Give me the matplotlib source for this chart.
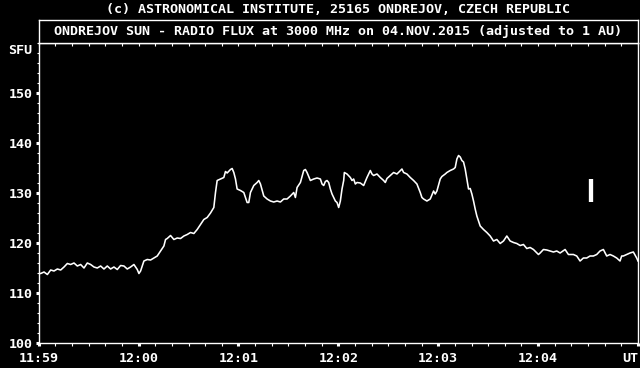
import matplotlib
matplotlib.use("Agg")
import matplotlib.pyplot as plt
from matplotlib.ticker import MultipleLocator, FixedLocator

# ---- data (seconds after 11:59:00 UT, solar flux in SFU) ----
times = [0.2, 1.2, 3.2, 5.2, 7.2, 9.2, 11.2, 13.2, 15.2, 17.2, 19.2, 21.2, 23.2, 25.2,
         27.2, 29.2, 31.2, 33.2, 35.2, 37.2, 39.2, 41.2, 43.2, 45.2, 47.2, 49.2, 51.2,
         53.2, 55.2, 57.2, 59.2, 60.2, 61.2, 63.2, 65.2, 67.2, 69.2, 71.2, 73.2, 75.2,
         76.2, 77.2, 79.2, 81.2, 83.2, 85.2, 87.2, 89.2, 91.2, 93.2, 95.2, 97.2, 99.2,
         101.2, 103.2, 105.2, 106.2, 107.2, 109.2, 111.2, 112.2, 113.2, 115.2, 116.2,
         117.2, 118.2, 119.2, 121.2, 123.2, 125.2, 126.2, 127.2, 129.2, 131.2, 132.2,
         133.2, 135.2, 137.2, 139.2, 141.2, 143.2, 145.2, 147.2, 149.2, 151.2, 153.2,
         154.2, 155.2, 157.2, 159.2, 160.2, 161.2, 163.2, 165.2, 167.2,
         169.2, 170.2, 171.2, 172.2, 173.2, 174.2, 175.2, 176.2, 177.2, 178.2, 179.2,
         180.2, 181.2, 182.2, 183.2, 183.6, 185.2, 187.2, 188.2, 189.2, 190.2, 191.2,
         193.2, 195.2, 197.2, 199.2, 200.2, 201.2, 203.2, 205.2, 207.2, 208.2, 209.2,
         211.2, 213.2, 215.2, 218.2, 219.2, 221.2, 223.2, 225.2, 227.2, 229.2, 230.2,
         231.2, 233.2, 235.2, 237.2, 238.2, 239.2, 241.2, 242.2, 244.2, 245.2, 247.2,
         249.2, 250.2, 251.2, 252.2, 253.2, 254.2, 255.2, 256.2, 257.2, 258.2, 259.2,
         260.2, 261.2, 262.2, 263.2, 264.2, 265.2, 267.2, 269.2, 271.2, 273.2, 275.2,
         277.2, 279.2, 281.2, 283.2, 285.2, 287.2, 289.2, 291.2, 293.2, 295.2, 297.2,
         300.2, 301.2, 303.2, 305.2, 307.2, 309.2, 311.2, 313.2, 316.2, 318.2, 321.2,
         323.2, 325.2, 327.2, 329.2, 331.2, 333.2, 335.2, 337.2, 339.2, 341.2, 343.2,
         345.2, 347.2, 349.2, 350.2, 351.2, 353.2, 355.2, 357.2, 359.2, 360.0]
flux = [113.9, 113.9, 114.2, 113.7, 114.6, 114.4, 114.8, 114.6, 115.2, 115.9, 115.7,
        116.0, 115.4, 115.7, 115.0, 116.0, 115.7, 115.2, 115.0, 115.4, 114.8, 115.4,
        114.8, 115.2, 114.7, 115.5, 115.4, 114.8, 115.2, 115.7, 114.7, 113.9, 114.4,
        116.4, 116.7, 116.6, 117.0, 117.4, 118.4, 119.4, 120.7, 120.9, 121.5, 120.7,
        121.0, 120.9, 121.4, 121.7, 122.1, 121.9, 122.7, 123.7, 124.7, 125.1, 126.0,
        127.1, 130.1, 132.5, 132.8, 133.1, 134.3, 134.0, 134.7, 134.9, 134.1, 132.8,
        130.8, 130.5, 130.1, 128.1, 128.1, 130.1, 131.5, 132.1, 132.5, 131.8, 129.4,
        128.8, 128.4, 128.2, 128.4, 128.2, 128.8, 128.8, 129.4, 130.1, 129.1, 131.1,
        132.1, 134.5, 134.7, 134.1, 132.5, 132.8, 133.0,
        132.8, 131.8, 131.5, 132.3, 132.5, 132.1, 130.8, 129.8, 129.1, 128.4, 128.1,
        127.1, 128.4, 130.8, 132.5, 134.1, 133.8, 133.1, 132.5, 132.8, 131.8, 132.1,
        132.0, 131.5, 133.1, 134.5, 133.8, 133.5, 133.8, 133.1, 132.5, 132.1, 132.9,
        133.5, 134.1, 133.8, 134.8, 134.1, 133.8, 133.1, 132.5, 131.8, 130.1, 129.1,
        128.8, 128.4, 128.8, 130.4, 129.8, 130.4, 132.8, 133.3, 133.8, 134.1, 134.5,
        134.8, 135.1, 136.8, 137.5, 137.2, 136.5, 136.2, 134.8, 132.8, 130.8, 130.9,
        129.8, 128.4, 126.8, 125.4, 124.4, 123.4, 122.7, 122.1, 121.4, 120.4, 120.7,
        119.9, 120.4, 121.4, 120.4, 120.1, 119.9, 119.5, 119.7, 118.9, 119.1, 118.7,
        117.7, 118.0, 118.7, 118.6, 118.4, 118.2, 118.4, 118.0, 118.7, 117.7, 117.7,
        117.4, 116.4, 117.0, 117.0, 117.4, 117.4, 117.7, 118.4, 118.7, 117.4, 117.7,
        117.4, 117.0, 116.4, 117.4, 117.4, 117.7, 118.0, 118.2, 117.0, 116.4]

x_tick_labels = ["11:59", "12:00", "12:01", "12:02", "12:03", "12:04", "UT"]
y_ticks = [100, 110, 120, 130, 140, 150]
bar_time = [331.6]
bar_low = [128.2]
bar_high = [132.9]

top_text = "(c) ASTRONOMICAL INSTITUTE, 25165 ONDREJOV, CZECH REPUBLIC"
title_text = "ONDREJOV SUN - RADIO FLUX at 3000 MHz on 04.NOV.2015 (adjusted to 1 AU)"

FONT = dict(family="DejaVu Sans Mono", weight="bold", size=9.6, color="white")

W, H = 640, 368
fig = plt.figure(figsize=(W / 100, H / 100), dpi=100, facecolor="black")

ax = fig.add_axes([38.7 / W, 25 / H, (638 - 38.7) / W, 300 / H], facecolor="black")
ax.plot(times, flux, color="white", lw=1.15)
ax.vlines(bar_time, bar_low, bar_high, color="white", lw=3.1, capstyle="butt")

ax.set_xlim(0, 360)
ax.set_ylim(100, 160)
for s in ax.spines.values():
    s.set_color("white")
    s.set_linewidth(1.0)

ax.xaxis.set_major_locator(FixedLocator(list(range(0, 361, 60))))
ax.xaxis.set_minor_locator(MultipleLocator(10))
ax.yaxis.set_major_locator(FixedLocator(y_ticks))
ax.yaxis.set_minor_locator(MultipleLocator(2))
ax.set_xticklabels(x_tick_labels, fontdict=FONT)
ax.set_yticklabels([str(v) for v in y_ticks], fontdict=FONT)
ax.get_xticklabels()[-1].set_horizontalalignment("right")

ax.tick_params(axis="x", which="major", direction="out", length=2.3, width=2.2,
               color="white", pad=4.0, top=True)
ax.tick_params(axis="x", which="minor", direction="out", length=2.0, width=0.8,
               color="white", top=True)
ax.tick_params(axis="y", which="major", direction="out", length=2.3, width=2.2,
               color="white", pad=2.0)
ax.tick_params(axis="y", which="minor", direction="out", length=1.6, width=0.8,
               color="white")
# top ticks point into the plot
for t in ax.xaxis.get_major_ticks() + ax.xaxis.get_minor_ticks():
    t.tick2line.set_marker(3)  # TICKDOWN
    t.tick2line.set_markersize(2.0)
    t.tick2line.set_markeredgewidth(0.8)

ax.text(-0.0105, 158.5, "SFU", transform=ax.get_yaxis_transform(),
        ha="right", va="center", **FONT)

# title box
tb = fig.add_axes([38.7 / W, (H - 43) / H, (638 - 38.7) / W, (43 - 19.7) / H],
                  facecolor="black")
tb.set_xticks([])
tb.set_yticks([])
for s in tb.spines.values():
    s.set_color("white")
    s.set_linewidth(1.0)
tb.text(0.5, 0.5, title_text, ha="center", va="center", transform=tb.transAxes, **FONT)

fig.text((38.7 + 638) / 2 / W, 1 - 9.5 / H, top_text, ha="center", va="center", **FONT)

fig.savefig("out.png", dpi=100, facecolor="black")
